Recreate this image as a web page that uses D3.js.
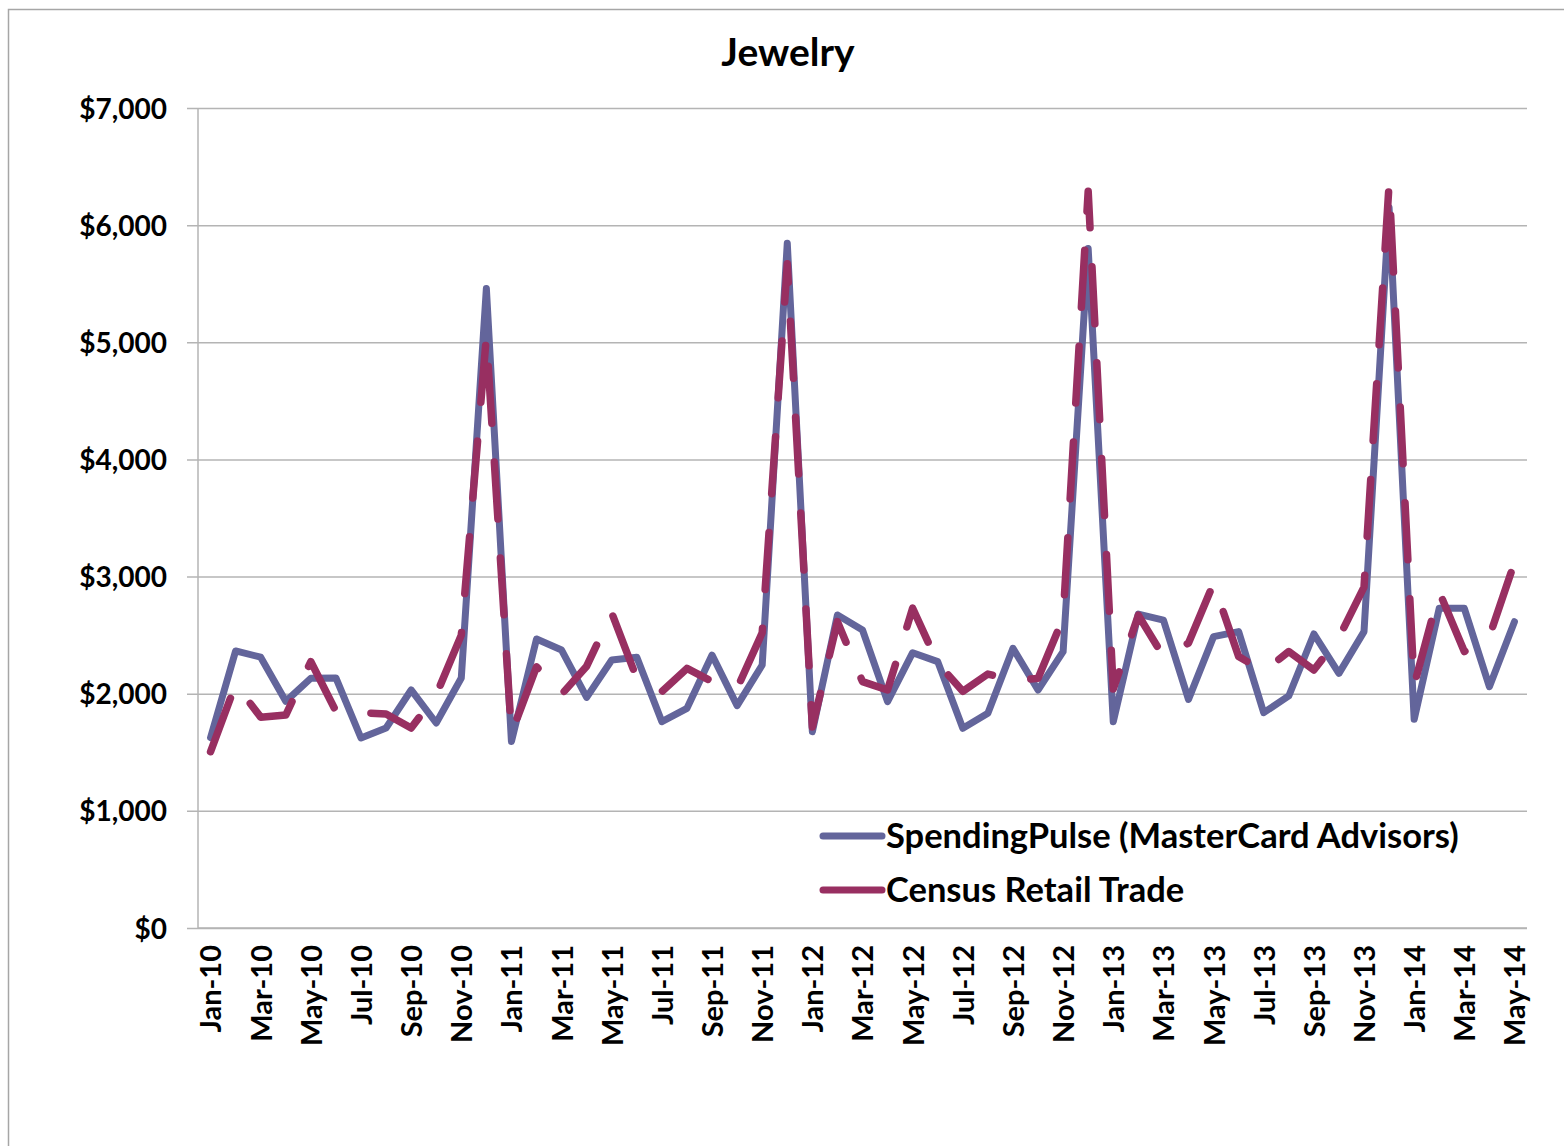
<!DOCTYPE html>
<html>
<head>
<meta charset="utf-8">
<script src="https://cdn.jsdelivr.net/npm/d3@7/dist/d3.min.js"></script>
<style>
  html, body { margin: 0; padding: 0; background: #fff; }
  svg { display: block; }
  text { font-family: Lato, "Open Sans", sans-serif; font-weight: bold; fill: #000; }
</style>
</head>
<body>
<svg id="chart" width="1564" height="1146"></svg>
<script>
// Monthly jewelry sales, Jan 2010 – May 2014 (millions of dollars)
const months = [
  "Jan-10","Feb-10","Mar-10","Apr-10","May-10","Jun-10","Jul-10","Aug-10","Sep-10","Oct-10","Nov-10","Dec-10",
  "Jan-11","Feb-11","Mar-11","Apr-11","May-11","Jun-11","Jul-11","Aug-11","Sep-11","Oct-11","Nov-11","Dec-11",
  "Jan-12","Feb-12","Mar-12","Apr-12","May-12","Jun-12","Jul-12","Aug-12","Sep-12","Oct-12","Nov-12","Dec-12",
  "Jan-13","Feb-13","Mar-13","Apr-13","May-13","Jun-13","Jul-13","Aug-13","Sep-13","Oct-13","Nov-13","Dec-13",
  "Jan-14","Feb-14","Mar-14","Apr-14","May-14"
];

const spendingPulse = [
  1625, 2365, 2312, 1935, 2132, 2135, 1622, 1707, 2032, 1750, 2134, 5460,
  1592, 2467, 2373, 1969, 2288, 2311, 1761, 1875, 2330, 1898, 2245, 5845,
  1676, 2672, 2544, 1932, 2350, 2274, 1705, 1833, 2388, 2032, 2359, 5800,
  1761, 2680, 2629, 1952, 2487, 2530, 1838, 1981, 2510, 2174, 2530, 6150,
  1781, 2729, 2729, 2060, 2615
];

const censusRetail = [
  1505, 2080, 1800, 1818, 2274, 1850, 1838, 1827, 1707, 1990, 2500, 5050,
  1662, 2230, 1995, 2235, 2690, 2130, 2018, 2216, 2105, 2046, 2520, 5670,
  1715, 2615, 2103, 2032, 2730, 2260, 2020, 2168, 2115, 2131, 2645, 6290,
  2040, 2670, 2318, 2432, 2942, 2318, 2190, 2360, 2202, 2480, 2910, 6350,
  2072, 2870, 2360, 2488, 3120
];

const yTicks = [0, 1000, 2000, 3000, 4000, 5000, 6000, 7000];
const xLabels = months.filter((m, i) => i % 2 === 0);

const seriesNames = ["SpendingPulse (MasterCard Advisors)", "Census Retail Trade"];
const seriesColors = ["#63659b", "#982f61"];

const svg = d3.select("#chart");

// chart frame
svg.append("rect")
  .attr("x", 8.5).attr("y", 9.5)
  .attr("width", 1600).attr("height", 1200)
  .attr("fill", "none").attr("stroke", "#a6a6a6").attr("stroke-width", 1.5);

const plot = { left: 198, right: 1527, top: 108, bottom: 928 };

const x = d3.scalePoint()
  .domain(months)
  .range([plot.left, plot.right])
  .padding(0.5);

const y = d3.scaleLinear()
  .domain([0, 7000])
  .range([plot.bottom, plot.top]);

// horizontal gridlines with short outside ticks
const yAxis = d3.axisLeft(y)
  .tickValues(yTicks)
  .tickSize(-(plot.right - plot.left))
  .tickSizeOuter(0)
  .tickPadding(0)
  .tickFormat(d => "$" + d3.format(",")(d));

const gy = svg.append("g")
  .attr("transform", `translate(${plot.left},0)`)
  .call(yAxis);
gy.select(".domain").remove();
gy.selectAll(".tick line")
  .attr("x1", -11)
  .attr("stroke", "#b4b4b4").attr("stroke-width", 1.5);
gy.selectAll(".tick text")
  .attr("x", -31)
  .attr("dy", "0.36em")
  .style("font-size", "28px")
  .style("font-family", "Lato, sans-serif")
  .style("font-weight", "bold")
  .attr("fill", "#000");

// vertical axis line
svg.append("line")
  .attr("x1", plot.left).attr("x2", plot.left)
  .attr("y1", plot.top).attr("y2", plot.bottom)
  .attr("stroke", "#b4b4b4").attr("stroke-width", 1.5);

// category axis
const xAxis = d3.axisBottom(x)
  .tickValues(xLabels)
  .tickSize(0)
  .tickSizeOuter(0);

const gx = svg.append("g")
  .attr("transform", `translate(0,${plot.bottom})`)
  .call(xAxis);
gx.select(".domain")
  .attr("d", `M${plot.left},0H${plot.right}`)
  .attr("stroke", "#b4b4b4").attr("stroke-width", 1.5);
gx.selectAll(".tick text")
  .attr("transform", "rotate(-90)")
  .attr("x", -17)
  .attr("y", 0)
  .attr("dy", "0.36em")
  .attr("text-anchor", "end")
  .style("font-size", "29px")
  .style("font-family", "Lato, sans-serif")
  .style("font-weight", "bold")
  .attr("fill", "#000");

// series lines
const line = d3.line()
  .x((d, i) => x(months[i]))
  .y(d => y(d));

svg.append("path")
  .datum(spendingPulse)
  .attr("d", line)
  .attr("fill", "none")
  .attr("stroke", seriesColors[0])
  .attr("stroke-width", 7)
  .attr("stroke-linejoin", "round")
  .attr("stroke-linecap", "round");

svg.append("path")
  .datum(censusRetail)
  .attr("d", line)
  .attr("fill", "none")
  .attr("stroke", seriesColors[1])
  .attr("stroke-width", 7.5)
  .attr("stroke-linejoin", "round")
  .attr("stroke-linecap", "round")
  .attr("stroke-dasharray", "57 39");

// title
svg.append("text")
  .attr("x", 788)
  .attr("y", 66)
  .attr("text-anchor", "middle")
  .style("font-size", "39px")
  .text("Jewelry");

// legend
const legend = svg.append("g");
seriesNames.forEach((name, i) => {
  const ly = 836 + i * 54;
  legend.append("line")
    .attr("x1", 823).attr("x2", 882)
    .attr("y1", ly).attr("y2", ly)
    .attr("stroke", seriesColors[i])
    .attr("stroke-width", 7)
    .attr("stroke-linecap", "round");
  legend.append("text")
    .attr("x", 886)
    .attr("y", ly)
    .attr("dy", "0.36em")
    .style("font-size", "34.5px")
    .text(name);
});
</script>
</body>
</html>
